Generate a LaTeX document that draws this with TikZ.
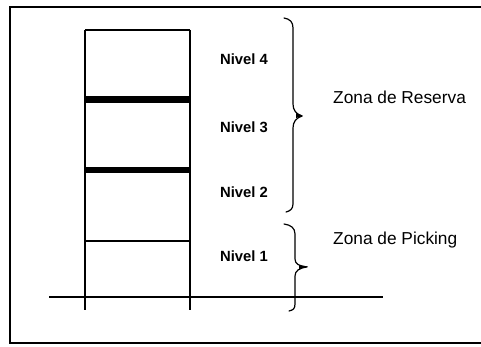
\documentclass[tikz,border=0pt]{standalone}
\usepackage{fontspec}
\setmainfont{Liberation Sans}
\begin{document}
\begin{tikzpicture}[x=1pt,y=-1pt,
  post/.style={line width=1.3pt},
  thickshelf/.style={line width=6.5pt},
  thinshelf/.style={line width=1.3pt},
  bracepath/.style={line width=1.2pt, line cap=round, line join=round},
  level/.style={font=\fontsize{14.8}{16}\selectfont\bfseries, inner sep=0pt},
  zone/.style={font=\fontsize{17.3}{19}\selectfont, inner sep=0pt, anchor=west}]
  \useasboundingbox (0,0) rectangle (481,347);
  % outer frame (right side runs past the page)
  \draw[line width=2pt] (490,7) -- (10,7) -- (10,343) -- (490,343);

  % rack posts and shelves
  \draw[post] (85,30) -- (85,310);
  \draw[post] (190,30) -- (190,310);
  \draw[thinshelf] (85,30) -- (190,30);
  \draw[thickshelf] (85,99.5) -- (190,99.5);
  \draw[thickshelf] (85,170) -- (190,170);
  \draw[thinshelf] (85,241) -- (190,241);
  % floor
  \draw[line width=1.2pt] (49,297) -- (383,297);

  % level labels
  \node[level] (n4) at (244,59) {Nivel 4};
  \node[level] (n3) at (244,127) {Nivel 3};
  \node[level] (n2) at (244,192) {Nivel 2};
  \node[level] (n1) at (244,256) {Nivel 1};

  % brace for the reserve zone
  \draw[bracepath] (284,18) .. controls (290,19) and (293,22) .. (293,28)
    -- (293,104) .. controls (293,110) and (296,114) .. (302,116)
    .. controls (296,118) and (293,122) .. (293,128)
    -- (293,204) .. controls (293,209) and (290,211) .. (286,212);
  \fill (296,113) -- (303,116) -- (296,118) -- cycle;
  % brace for the picking zone
  \draw[bracepath] (284,224) .. controls (291,225) and (295,228) .. (295,234)
    -- (295,259) .. controls (295,264) and (299,266) .. (307,267)
    .. controls (299,268) and (295,271) .. (295,276)
    -- (295,304) .. controls (295,309) and (293,310) .. (289,311);
  \fill (299,265) -- (308,266.5) -- (299,269) -- cycle;

  % zone labels
  \node[zone] (zr) at (333,97) {Zona de Reserva};
  \node[zone] (zp) at (333,240) {Zona de Picking};
\end{tikzpicture}
\end{document}
